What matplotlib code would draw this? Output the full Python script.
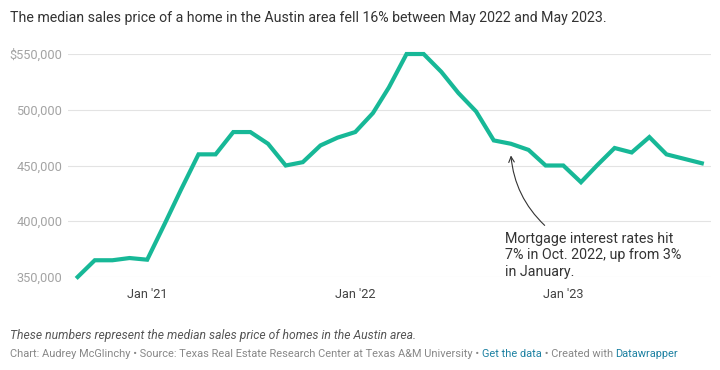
import matplotlib
matplotlib.use('Agg')
from matplotlib import pyplot as plt
import pandas as pd

# Monthly median sales price, Austin area
months = ['2020-09', '2020-10', '2020-11', '2020-12',
          '2021-01', '2021-02', '2021-03', '2021-04', '2021-05', '2021-06',
          '2021-07', '2021-08', '2021-09', '2021-10', '2021-11', '2021-12',
          '2022-01', '2022-02', '2022-03', '2022-04', '2022-05', '2022-06',
          '2022-07', '2022-08', '2022-09', '2022-10', '2022-11', '2022-12',
          '2023-01', '2023-02', '2023-03', '2023-04', '2023-05', '2023-06',
          '2023-07', '2023-08', '2023-09']
prices = [350000, 365000, 365000, 367000,
          365500, 398000, 428000, 460000, 460000, 480000,
          480000, 469500, 450000, 453000, 468000, 475000,
          480000, 497000, 520000, 550000, 550000, 534000,
          515000, 498500, 472500, 469500, 464000, 450000,
          450000, 435000, 450000, 465700, 461700, 475500,
          460000, 456000, 452000]

y_ticks = [350000, 400000, 450000, 500000, 550000]
y_labels = ['350,000', '400,000', '450,000', '500,000', '$550,000']
x_ticks = ['2021-01', '2022-01', '2023-01']
x_labels = ["Jan '21", "Jan '22", "Jan '23"]

plt.rcParams['font.family'] = ['Roboto', 'DejaVu Sans']

dates = pd.to_datetime(months)

fig = plt.figure(figsize=(7.2, 3.7), dpi=100)
ax = fig.add_axes([0.0944, 0.2514, 0.893, 0.6026])

ax.plot(dates, prices, color='#17b897', linewidth=3.0,
        solid_joinstyle='miter', clip_on=False, zorder=3)

ax.set_ylim(350000, 550000)
ax.set_xlim(dates[0] - pd.Timedelta(days=17), dates[-1] + pd.Timedelta(days=16))

ax.set_yticks(y_ticks)
ax.set_yticklabels(y_labels)
ax.set_xticks(pd.to_datetime(x_ticks))
ax.set_xticklabels(x_labels)
ax.tick_params(axis='y', length=0, pad=4, labelsize=9.2, labelcolor='#a3a3a3')
ax.tick_params(axis='x', length=0, pad=8, labelsize=9.2, labelcolor='#444444')
ax.grid(axis='y', color='#e3e3e3', linewidth=0.8)
for s in ax.spines.values():
    s.set_visible(False)

# Annotation with curved arrow
ax.annotate('', xy=(510.7, 370 - 152.7), xycoords='figure pixels',
            xytext=(546.7, 370 - 227.3), textcoords='figure pixels',
            arrowprops=dict(arrowstyle='->', color='#333333', lw=0.8,
                            connectionstyle='arc3,rad=-0.2'))
fig.text(505 / 720, 1 - 232 / 370,
         'Mortgage interest rates hit\n7% in Oct. 2022, up from 3%\nin January.',
         ha='left', va='top', fontsize=10.3, color='#333333', linespacing=1.22)

# Title
fig.text(10 / 720, 1 - 18 / 370,
         'The median sales price of a home in the Austin area fell 16% between May 2022 and May 2023.',
         ha='left', va='center', fontsize=10.2, color='#333333')

# Footer
fig.text(10 / 720, 1 - 335 / 370,
         'These numbers represent the median sales price of homes in the Austin area.',
         ha='left', va='center', fontsize=8.7, color='#555555', style='italic')

t1 = fig.text(10 / 720, 1 - 354 / 370,
              'Chart: Audrey McGlinchy \u2022 Source: Texas Real Estate Research Center at Texas A&M University \u2022 ',
              ha='left', va='center', fontsize=7.95, color='#888888')
t2 = ax.annotate('Get the data', xy=(1, 0.5), xycoords=t1, va='center', ha='left',
                 fontsize=7.95, color='#1d81a2', annotation_clip=False)
t3 = ax.annotate(' \u2022 Created with ', xy=(1, 0.5), xycoords=t2, va='center', ha='left',
                 fontsize=7.95, color='#888888', annotation_clip=False)
ax.annotate('Datawrapper', xy=(1, 0.5), xycoords=t3, va='center', ha='left',
            fontsize=7.95, color='#1d81a2', annotation_clip=False)

fig.savefig('out.png', dpi=100, facecolor='white')
